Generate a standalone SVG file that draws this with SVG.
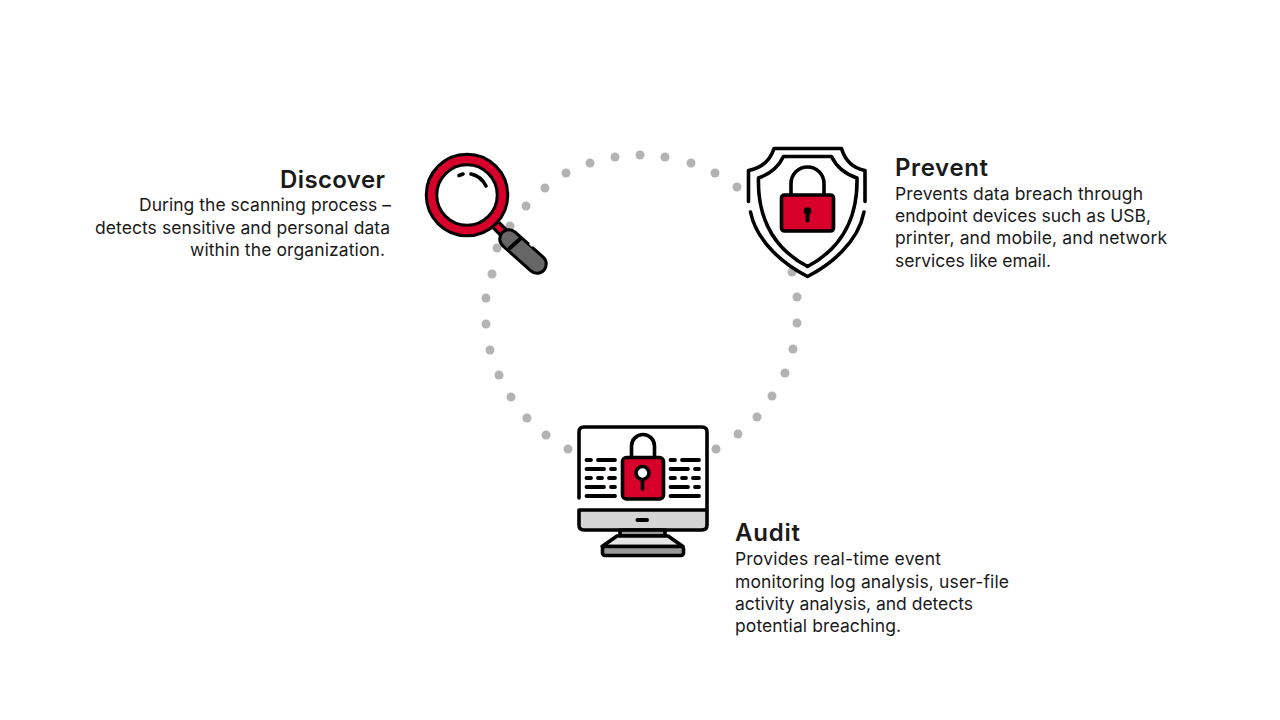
<svg xmlns="http://www.w3.org/2000/svg" width="1280" height="720" viewBox="0 0 1280 720">
<style>
.h{font-family:"Inter","Liberation Sans",sans-serif;font-weight:600;font-size:24px;fill:#1a1a1a}
.b{font-family:"Inter","Liberation Sans",sans-serif;font-weight:400;font-size:17.500px;fill:#1a1a1a}
.k{fill:none;stroke:#000;stroke-width:3.600;stroke-linecap:round;stroke-linejoin:round}
.r{fill:#d6002a;stroke:#000;stroke-width:3.600;stroke-linejoin:round}
.d{stroke:#000;stroke-width:3.800;stroke-linecap:round}
#dots circle{fill:#b3b3b3}
</style>
<rect width="1280" height="720" fill="#fff"/>
<g id="connectors">
<g id="dots">
<circle cx="566" cy="173" r="4.500"/><circle cx="590" cy="163" r="4.500"/><circle cx="615" cy="157" r="4.500"/><circle cx="640" cy="155" r="4.500"/><circle cx="665" cy="157" r="4.500"/><circle cx="691" cy="163" r="4.500"/><circle cx="715" cy="173" r="4.500"/><circle cx="737" cy="187" r="4.500"/>
<circle cx="545" cy="188" r="4.500"/><circle cx="526" cy="206" r="4.500"/><circle cx="510" cy="226" r="4.500"/><circle cx="497" cy="248" r="4.500"/><circle cx="492" cy="274" r="4.500"/><circle cx="486" cy="298" r="4.500"/><circle cx="486" cy="324" r="4.500"/><circle cx="490" cy="350" r="4.500"/><circle cx="499" cy="375" r="4.500"/><circle cx="511" cy="397" r="4.500"/><circle cx="527" cy="418" r="4.500"/><circle cx="546" cy="435" r="4.500"/><circle cx="568" cy="449" r="4.500"/>
<circle cx="792" cy="272" r="4.500"/><circle cx="797" cy="297" r="4.500"/><circle cx="797" cy="323" r="4.500"/><circle cx="793" cy="349" r="4.500"/><circle cx="785" cy="373" r="4.500"/><circle cx="772" cy="396" r="4.500"/><circle cx="757" cy="417" r="4.500"/><circle cx="738" cy="434" r="4.500"/><circle cx="716" cy="449" r="4.500"/>
</g>
</g>
<g id="discover">
<line x1="496" y1="225" x2="506" y2="235" stroke="#000" stroke-width="11"/>
<line x1="496" y1="225" x2="506" y2="235" stroke="#d6002a" stroke-width="5"/>
<circle cx="467" cy="195" r="35.500" fill="#fff" stroke="#000" stroke-width="13.500"/>
<circle cx="467" cy="195" r="35.500" fill="none" stroke="#d6002a" stroke-width="7.500"/>
<path class="k" d="M459 175.500L463 174M471 174Q481 176 486 186"/>
<line x1="509" y1="239" x2="537" y2="264" stroke="#000" stroke-width="21.500" stroke-linecap="round"/>
<line x1="509" y1="239" x2="537" y2="264" stroke="#666" stroke-width="15.500" stroke-linecap="round"/>
<line class="d" x1="510" y1="248" x2="520" y2="239"/>
<line x1="530" y1="243" x2="533" y2="246" stroke="#fff" stroke-width="3"/>
<text class="h" x="385" y="188" text-anchor="end" textLength="105">Discover</text>
<text class="b" x="139" y="211" textLength="252">During the scanning process –</text>
<text class="b" x="95" y="234" textLength="295">detects sensitive and personal data</text>
<text class="b" x="190" y="256" textLength="195">within the organization.</text>
</g>
<g id="prevent">
<path class="k" d="M748.500 201.500V170.500Q768 167 774 148.500H841.500Q847 167 865 170.500V201.500"/>
<path class="k" d="M750.500 212C757 243 785 265 807.500 276.500C830 265 858 243 864 212"/>
<path class="k" d="M783.500 156.500H831.500C837 168 845 174 857 178C858 225 835 252 807.500 266.500C780 252 757 225 758.500 178C770 174 778 168 783.500 156.500Z"/>
<path class="k" d="M791 195V183.500A16.500 16.500 0 0 1 824 183.500V195"/>
<rect class="r" x="781.500" y="195" width="52" height="36" rx="3"/>
<circle cx="807.500" cy="211" r="3.800" fill="#000"/>
<line x1="807.500" y1="211" x2="807.500" y2="220.500" stroke="#000" stroke-width="3.800" stroke-linecap="round"/>
<text class="h" x="895" y="176" textLength="93">Prevent</text>
<text class="b" x="895" y="200" textLength="248">Prevents data breach through</text>
<text class="b" x="895" y="222" textLength="256">endpoint devices such as USB,</text>
<text class="b" x="895" y="244" textLength="272">printer, and mobile, and network</text>
<text class="b" x="895" y="267" textLength="156">services like email.</text>
</g>
<g id="audit">
<path d="M579 510H707V525Q707 530 702 530H584Q579 530 579 525Z" fill="#d4d4d4"/>
<path class="k" d="M579 498V432Q579 427 584 427H702Q707 427 707 432V525Q707 530 702 530H584Q579 530 579 525V510H707"/>
<line x1="637.500" y1="520" x2="647" y2="520" stroke="#000" stroke-width="4" stroke-linecap="round"/>
<path d="M620 530H665V536H620Z" fill="#999" stroke="#000" stroke-width="3.600" stroke-linejoin="round"/>
<path d="M617 536H668L683 546.500H602Z" fill="#e6e6e6" stroke="#000" stroke-width="3.600" stroke-linejoin="round"/>
<rect x="602.500" y="546.500" width="81" height="9" rx="2.500" fill="#999" stroke="#000" stroke-width="3.600"/>
<path class="k" d="M631.500 457V446A11.300 11.300 0 0 1 654.500 446V457"/>
<rect class="r" x="622.500" y="457.500" width="41" height="41.500" rx="4"/>
<line x1="642.500" y1="473" x2="642.500" y2="489" stroke="#000" stroke-width="3.600" stroke-linecap="round"/>
<circle cx="642.500" cy="473" r="6.500" fill="#fff" stroke="#000" stroke-width="3.600"/>
<path class="d" d="M586.500 460H591M598 460H615M586.500 469H604M611 469H615M586.500 478H591M598 478H602M609 478H615M586.500 487H604M611 487H615M586.500 496H615"/>
<path class="d" d="M670.500 460H675M682 460H699M670.500 469H688M695 469H699M670.500 478H675M682 478H686M693 478H699M670.500 487H688M695 487H699M670.500 496H699"/>
<text class="h" x="735" y="541" textLength="65">Audit</text>
<text class="b" x="735" y="565" textLength="206">Provides real-time event</text>
<text class="b" x="735" y="588" textLength="274">monitoring log analysis, user-file</text>
<text class="b" x="735" y="610" textLength="238">activity analysis, and detects</text>
<text class="b" x="735" y="632" textLength="166">potential breaching.</text>
</g>
</svg>
